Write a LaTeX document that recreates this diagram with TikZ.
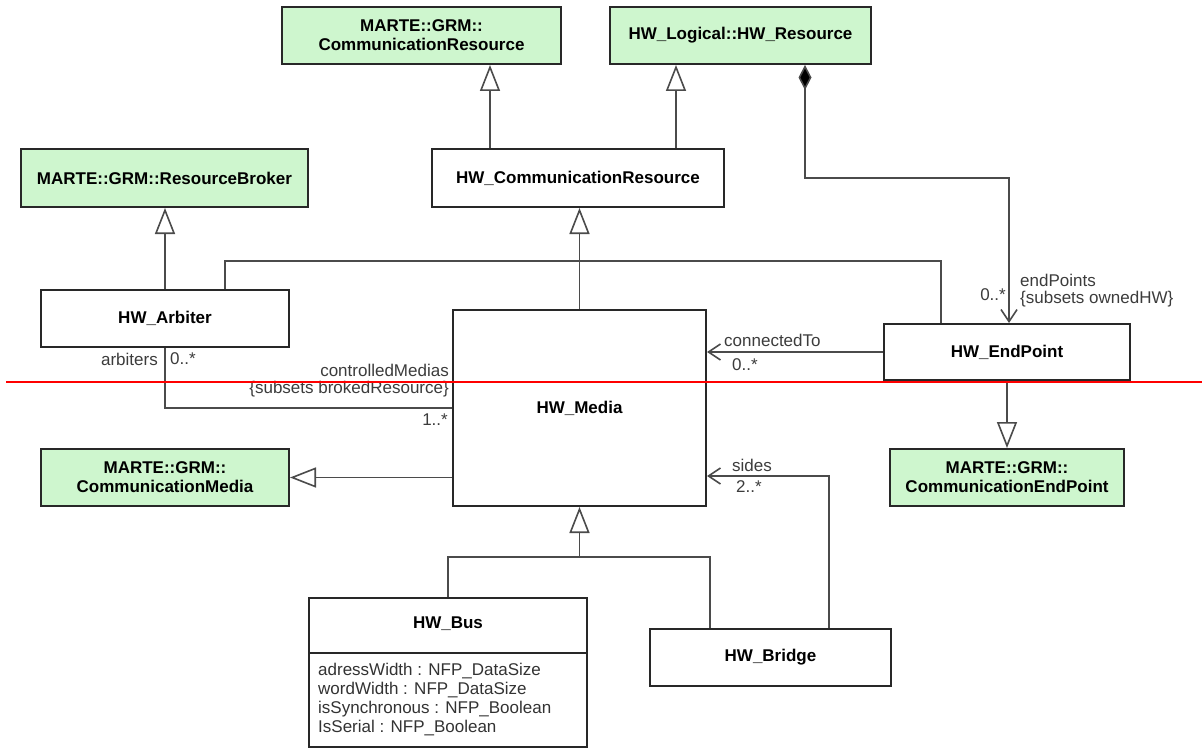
\documentclass[tikz,border=0pt]{standalone}
\usepackage{fontspec}
\setmainfont{Liberation Sans}
\usetikzlibrary{arrows.meta,calc}
\definecolor{umlgreen}{RGB}{206,246,206}
\definecolor{boxedge}{RGB}{40,40,40}
\definecolor{wirecol}{RGB}{75,75,75}
\definecolor{lblcol}{RGB}{60,60,60}
\begin{document}
\begin{tikzpicture}[x=1pt,y=-1pt,
 cls/.style={draw=boxedge, line width=2pt, fill=white, inner sep=0pt, align=center,
   font=\fontsize{17}{19}\selectfont\bfseries, text=black},
 grn/.style={cls, fill=umlgreen},
 wire/.style={draw=wirecol, line width=1.6pt},
 gen/.style={wire, -{Triangle[open, length=26pt, width=20pt, fill=white]}},
 nav/.style={wire, -{Straight Barb[length=12pt, width=16pt]}},
 comp/.style={wire, {Diamond[length=25pt, width=13pt, fill=black]}-{Straight Barb[length=12pt, width=16pt]}},
 lab/.style={font=\fontsize{17}{19}\selectfont, text=lblcol, inner sep=0pt},
 ttl/.style={font=\fontsize{17}{19}\selectfont\bfseries, text=black, inner sep=0pt},
]
\fill[white] (0,0) rectangle (1202,749);
\useasboundingbox (0,0) rectangle (1202,749);

% classes
\node[grn, minimum width=279pt, minimum height=57pt] (cr) at (421.5,35.5) {MARTE::GRM::\\CommunicationResource};
\node[grn, minimum width=261pt, minimum height=57pt] (hwr) at (740.5,35.5) {HW\_Logical::HW\_Resource};
\node[grn, minimum width=287pt, minimum height=58pt] (rb) at (164.5,178) {MARTE::GRM::ResourceBroker};
\node[cls, minimum width=292pt, minimum height=58pt] (hwcr) at (578,178) {HW\_CommunicationResource};
\node[cls, minimum width=248pt, minimum height=57pt] (arb) at (165,318.5) {HW\_Arbiter};
\node[cls, minimum width=253pt, minimum height=196pt] (media) at (579.5,408) {HW\_Media};
\node[cls, minimum width=246pt, minimum height=56pt] (ep) at (1007,352) {HW\_EndPoint};
\node[grn, minimum width=248pt, minimum height=57pt] (cm) at (165,477.5) {MARTE::GRM::\\CommunicationMedia};
\node[grn, minimum width=234pt, minimum height=57pt] (cep) at (1007,477.5) {MARTE::GRM::\\CommunicationEndPoint};
\node[cls, minimum width=278pt, minimum height=149pt] (bus) at (448,672.5) {};
\draw[draw=boxedge, line width=2pt] ($(bus.north west)+(0,56)$) -- ($(bus.north east)+(0,56)$);
\node[ttl] (bust) at (448,624) {HW\_Bus};
\node[lab, text=black!80, anchor=north west, align=left] (busa) at (318,663)
  {adressWidth : NFP\_DataSize\\wordWidth : NFP\_DataSize\\isSynchronous : NFP\_Boolean\\IsSerial : NFP\_Boolean};
\node[cls, minimum width=241pt, minimum height=57pt] (bridge) at (770.5,657.5) {HW\_Bridge};

% generalizations
\draw[gen] ($(hwcr.north west)+(59,0)$) coordinate (g1) -- (cr.south -| g1);
\draw[gen] ($(hwcr.north east)+(-49,0)$) coordinate (g2) -- (hwr.south -| g2);
\draw[gen] (arb.north) -- (rb.south -| arb.north);
\draw[gen] (media.north) -- (hwcr.south -| media.north);
\draw[gen] (media.west |- cm.east) -- (cm.east);
\draw[gen] (ep.south) -- (cep.north);
\coordinate (j) at ($(media.south)+(0,50)$);
\draw[gen] (j) -- (media.south);
\draw[wire] (bus.north) |- (j) -| ($(bridge.north west)+(61,0)$);

% associations
\draw[wire] ($(arb.north west)+(185,0)$) -- ++(0,-28) -| ($(ep.north west)+(58,0)$);
\draw[wire] (arb.south) |- (media.west);
\draw[nav] (ep.west) -- (media.east |- ep.west);
\draw[nav] ($(bridge.north west)+(180,0)$) |- ($(media.east)+(0,68)$);
\draw[comp] ($(hwr.south west)+(196,0)$) -- ++(0,113) -| ($(ep.north west)+(126,0)$);

% labels
\node[lab, anchor=east] (l1) at (158,359) {arbiters};
\node[lab, anchor=west] (l2) at (170,359) {0..*};
\node[lab, anchor=east] (l3) at (449,370) {controlledMedias};
\node[lab, anchor=east] (l4) at (449,389) {\{subsets brokedResource\}};
\node[lab, anchor=east] (l5) at (448,420) {1..*};
\node[lab, anchor=west] (l6) at (724,340) {connectedTo};
\node[lab, anchor=west] (l7) at (732,365) {0..*};
\node[lab, anchor=west] (l8) at (1020,280) {endPoints};
\node[lab, anchor=west] (l9) at (1020,299) {\{subsets ownedHW\}};
\node[lab, anchor=east] (l10) at (1006,295) {0..*};
\node[lab, anchor=west] (l11) at (732,465) {sides};
\node[lab, anchor=west] (l12) at (736,487) {2..*};

% red line
\draw[red, line width=2pt] (6,382) coordinate (r1) -- (1202,382) coordinate (r2);
\end{tikzpicture}
\end{document}
